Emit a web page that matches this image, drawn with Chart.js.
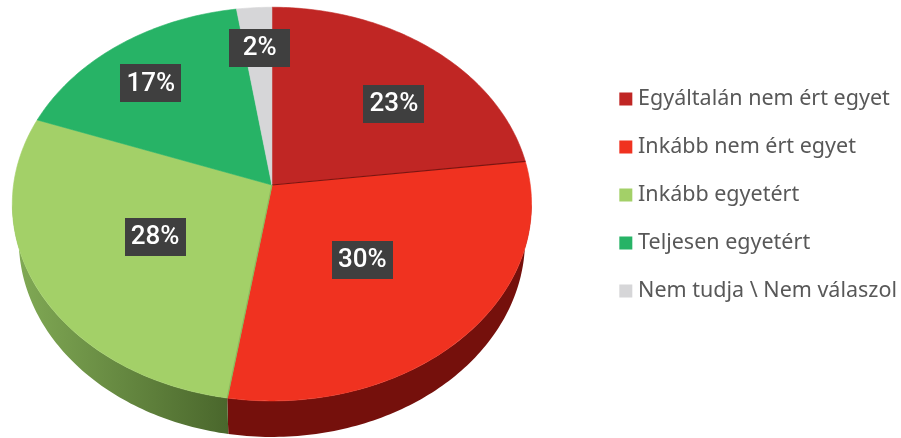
<!DOCTYPE html>
<html>
<head>
<meta charset="utf-8">
<title>Pie</title>
<script src="https://cdn.jsdelivr.net/npm/chart.js@4/dist/chart.umd.min.js"></script>
<style>
  html, body { margin: 0; padding: 0; background: #fff; }
  #wrap { position: relative; width: 901px; height: 438px; overflow: hidden; }
  canvas { display: block; }
</style>
</head>
<body>
<div id="wrap"><canvas id="chart" width="901" height="438"></canvas></div>
<script>
const categories = ["Egyáltalán nem ért egyet", "Inkább nem ért egyet", "Inkább egyetért", "Teljesen egyetért", "Nem tudja \\ Nem válaszol"]
const shares = [23.05, 29.45, 28.1, 17.0, 2.4]
const shareLabels = ["23%", "30%", "28%", "17%", "2%"]
const sliceColors = ["#c02624", "#f03220", "#a3d068", "#27b366", "#d6d6d8"]
const rimFrom = ["#8a1512", "#75100c", "#82ab56", "#1c7a46", "#999999"]
const rimTo = ["#8a1512", "#75100c", "#4a672c", "#1c7a46", "#999999"]
const seamColors = [null, "#7a1512", "#8cba5e", null, null]
// how far out along the slice each percent box sits (0 = centre, 1 = rim)
const labelReach = [0.7, 0.5, 0.52, 0.73, 0.7]
const labelNudgeX = [8, -2.5, 2, -8, 0.5]
const labelNudgeY = [16, 2, -1, 3, -10]

// the library lays the pie out flat, this tilts it
const centerShiftX = -27
const centerShiftY = -10
const stretchX = 1.325
const perspective = 0.097
const depth = 36
const bottomShrink = 0.975

function project(arc, angle, reach) {
  const sin = Math.sin(angle)
  const w = 1 - perspective * sin * reach
  return {
    x: arc.x + centerShiftX + arc.outerRadius * stretchX * Math.cos(angle) * reach / w,
    y: arc.y + centerShiftY + arc.outerRadius * sin * reach / w
  }
}

function traceRim(ctx, arc, from, to, shift, shrink) {
  const cx = arc.x + centerShiftX
  const steps = Math.max(2, Math.ceil(Math.abs(to - from) * 60))
  for (let i = 0; i <= steps; i++) {
    const p = project(arc, from + (to - from) * i / steps, 1)
    ctx.lineTo(cx + (p.x - cx) * shrink, p.y + shift)
  }
}

const tiltedPie = {
  id: "tiltedPie",
  beforeDatasetsDraw(chart) {
    const ctx = chart.ctx
    const arcs = chart.getDatasetMeta(0).data
    // side wall first, only the front part is visible
    const frontFrom = Math.asin(perspective)
    const frontTo = Math.PI - frontFrom
    arcs.forEach((arc, i) => {
      const from = Math.max(arc.startAngle, frontFrom)
      const to = Math.min(arc.endAngle, frontTo)
      if (to <= from) return
      const a = project(arc, from, 1)
      const b = project(arc, to, 1)
      const grad = ctx.createLinearGradient(Math.min(a.x, b.x), 0, Math.max(a.x, b.x), 0)
      grad.addColorStop(0, rimFrom[i])
      grad.addColorStop(1, rimTo[i])
      ctx.beginPath()
      traceRim(ctx, arc, from, to, 0, 1)
      traceRim(ctx, arc, to, from, depth, bottomShrink)
      ctx.closePath()
      ctx.fillStyle = grad
      ctx.fill()
    })
    // top face
    arcs.forEach((arc, i) => {
      const c = project(arc, 0, 0)
      ctx.beginPath()
      ctx.moveTo(c.x, c.y)
      traceRim(ctx, arc, arc.startAngle, arc.endAngle, 0, 1)
      ctx.closePath()
      ctx.fillStyle = sliceColors[i]
      ctx.fill()
      ctx.strokeStyle = sliceColors[i]
      ctx.lineWidth = 0.6
      ctx.stroke()
    })
    arcs.forEach((arc, i) => {
      if (!seamColors[i]) return
      const c = project(arc, 0, 0)
      const p = project(arc, arc.startAngle, 1)
      ctx.beginPath()
      ctx.moveTo(c.x, c.y)
      ctx.lineTo(p.x, p.y)
      ctx.strokeStyle = seamColors[i]
      ctx.lineWidth = 1.2
      ctx.stroke()
    })
    return false
  },
  afterDraw(chart) {
    const ctx = chart.ctx
    chart.getDatasetMeta(0).data.forEach((arc, i) => {
      const mid = (arc.startAngle + arc.endAngle) / 2
      const p = project(arc, mid, labelReach[i])
      const x = p.x + labelNudgeX[i]
      const y = p.y + labelNudgeY[i]
      ctx.fillStyle = "#3f3f3f"
      ctx.fillRect(Math.round(x - 30.5), Math.round(y - 19), 61, 38)
      ctx.fillStyle = "#ffffff"
      ctx.font = "500 26px Roboto"
      ctx.textAlign = "center"
      ctx.textBaseline = "middle"
      ctx.fillText(shareLabels[i], x, y + 1)
    })
  }
}

new Chart(document.getElementById("chart"), {
  type: "pie",
  data: {
    labels: categories,
    datasets: [{ data: shares, backgroundColor: sliceColors, borderWidth: 0 }]
  },
  options: {
    responsive: false,
    animation: false,
    layout: { padding: { bottom: 48, right: -6 } },
    plugins: {
      tooltip: { enabled: false },
      legend: {
        position: "right",
        labels: {
          color: "#585858",
          font: { family: "Noto Sans", size: 21.5 },
          boxWidth: 3,
          boxHeight: 3,
          padding: 26.5,
          generateLabels(chart) {
            const items = Chart.overrides.pie.plugins.legend.labels.generateLabels(chart)
            // box is 3px + 10px stroke so the text sits closer than the default gap
            return items.map(item => ({ ...item, lineWidth: 10, strokeStyle: item.fillStyle }))
          }
        }
      }
    }
  },
  plugins: [tiltedPie]
})
</script>
</body>
</html>
